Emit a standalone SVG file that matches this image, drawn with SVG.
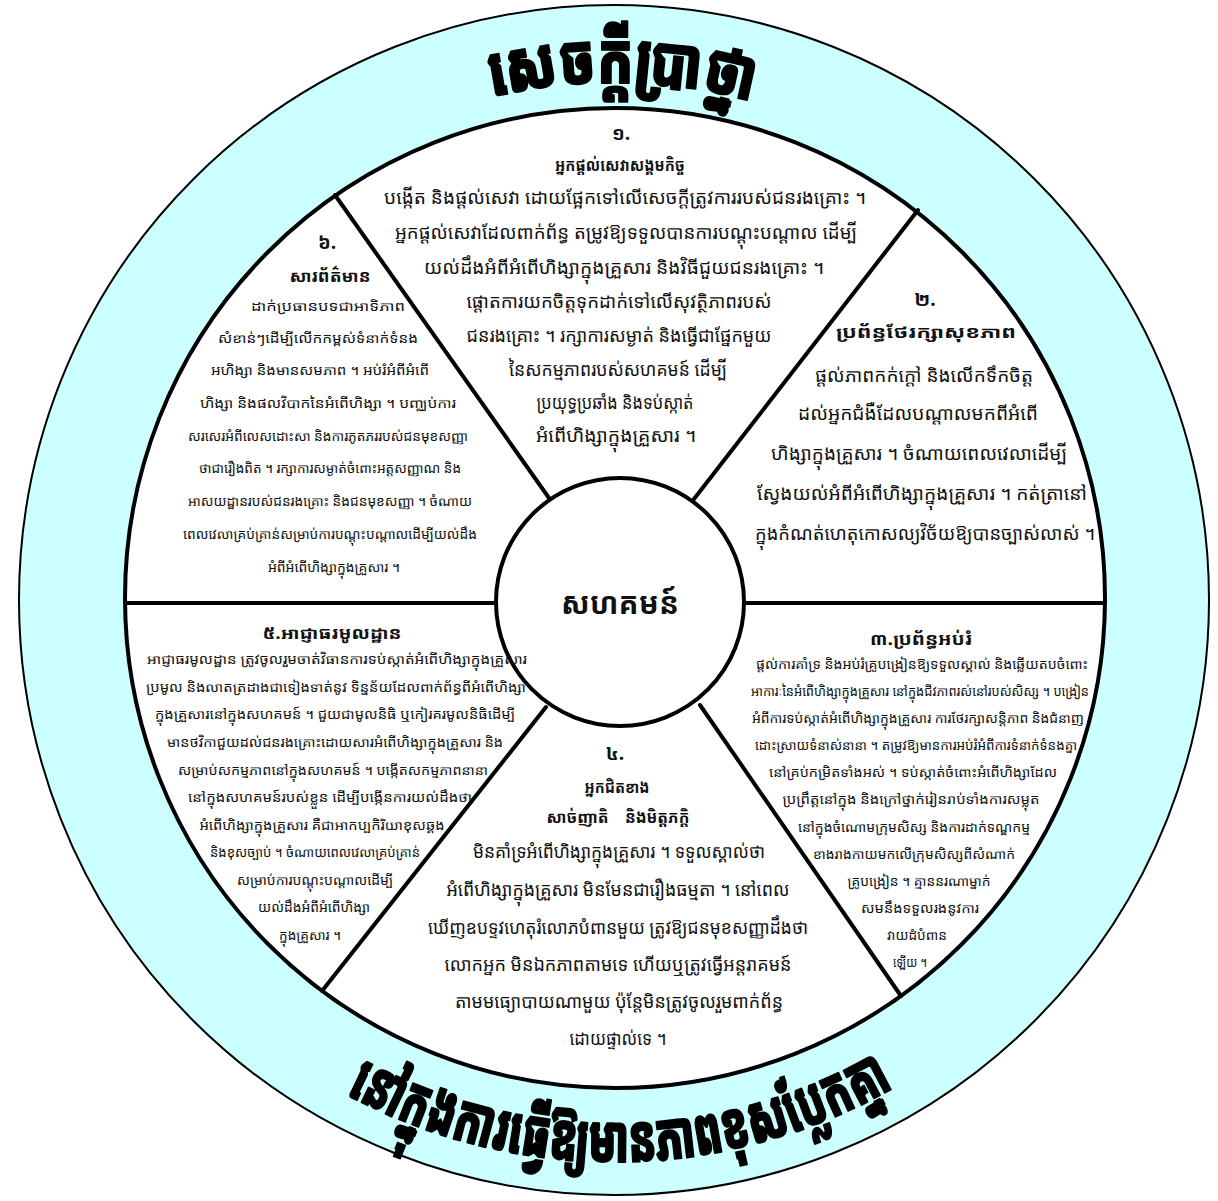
<svg xmlns="http://www.w3.org/2000/svg" width="1218" height="1201" viewBox="0 0 1218 1201">
<style>
text{font-family:"Noto Sans Khmer","Khmer OS","Khmer OS System","Noto Sans","DejaVu Sans",sans-serif;fill:#111;text-anchor:middle}
.b{font-size:18.5px}
.s{font-size:13px}
.h{font-size:16px;font-weight:bold}
.n{font-size:19px;font-weight:bold}
.big{font-weight:900;fill:#000;stroke:#000;stroke-width:2;stroke-linejoin:round}
.ln{stroke:#000;stroke-width:4;fill:none;stroke-linecap:round}
</style>
<defs>
<path id="arcTop" d="M 97 600 A 517 517 0 0 1 1131 600"/>
<path id="arcBot" d="M 52 600 A 562 562 0 0 0 1176 600"/>
</defs>
<rect width="1218" height="1201" fill="#fff"/>
<g id="ring">
<circle cx="614" cy="600" r="595" fill="#ccffff" stroke="#000" stroke-width="2"/>
<circle cx="615" cy="598" r="490" fill="#fff" stroke="none"/>
<text class="big" font-size="70"><textPath href="#arcTop" startOffset="50.5%" textLength="262" lengthAdjust="spacingAndGlyphs">សេចក្តីប្រាថ្នា</textPath></text>
<text class="big" font-size="66"><textPath href="#arcBot" startOffset="50.4%" textLength="572" lengthAdjust="spacingAndGlyphs">នៅក្នុងការធ្វើឱ្យមានភាពខុសប្លែកគ្នា</textPath></text>
</g>
<g id="connectors">
<line class="ln" x1="125" y1="603" x2="497" y2="603"/>
<line class="ln" x1="744" y1="603" x2="1105" y2="603"/>
<line class="ln" x1="335" y1="195" x2="549" y2="498"/>
<line class="ln" x1="918" y1="210" x2="694" y2="499"/>
<line class="ln" x1="546" y1="707" x2="322" y2="991"/>
<line class="ln" x1="700" y1="705" x2="901" y2="996"/>
</g>
<circle cx="615" cy="598" r="490" fill="none" stroke="#000" stroke-width="4"/>
<g id="center">
<circle cx="620" cy="602" r="124" fill="#fff" stroke="#000" stroke-width="4"/>
<text x="620" y="614" font-size="30" font-weight="bold" textLength="118" lengthAdjust="spacingAndGlyphs">សហគមន៍</text>
</g>
<g id="s1">
<text class="n" x="621" y="140">១.</text>
<text class="h" x="620" y="171" textLength="130" lengthAdjust="spacingAndGlyphs">អ្នកផ្តល់សេវាសង្គមកិច្ច</text>
<text class="b" x="625" y="204" textLength="482" lengthAdjust="spacingAndGlyphs">បង្កើត និងផ្តល់សេវា ដោយផ្អែកទៅលើសេចក្តីត្រូវការរបស់ជនរងគ្រោះ ។</text>
<text class="b" x="626" y="239" textLength="462" lengthAdjust="spacingAndGlyphs">អ្នកផ្តល់សេវាដែលពាក់ព័ន្ធ តម្រូវឱ្យទទួលបានការបណ្តុះបណ្តាល ដើម្បី</text>
<text class="b" x="624" y="274" textLength="400" lengthAdjust="spacingAndGlyphs">យល់ដឹងអំពីអំពើហិង្សាក្នុងគ្រួសារ និងវិធីជួយជនរងគ្រោះ ។</text>
<text class="b" x="619" y="308" textLength="305" lengthAdjust="spacingAndGlyphs">ផ្តោតការយកចិត្តទុកដាក់ទៅលើសុវត្ថិភាពរបស់</text>
<text class="b" x="619" y="342" textLength="305" lengthAdjust="spacingAndGlyphs">ជនរងគ្រោះ ។ រក្សាការសម្ងាត់ និងធ្វើជាផ្នែកមួយ</text>
<text class="b" x="618" y="376" textLength="218" lengthAdjust="spacingAndGlyphs">នៃសកម្មភាពរបស់សហគមន៍ ដើម្បី</text>
<text class="b" x="615" y="409" textLength="157" lengthAdjust="spacingAndGlyphs">ប្រយុទ្ធប្រឆាំង និងទប់ស្កាត់</text>
<text class="b" x="616" y="442" textLength="160" lengthAdjust="spacingAndGlyphs">អំពើហិង្សាក្នុងគ្រួសារ  ។</text>
</g>
<g id="s2">
<text class="n" x="925" y="306">២.</text>
<text class="h" x="926" y="338" textLength="180" lengthAdjust="spacingAndGlyphs">ប្រព័ន្ធថែរក្សាសុខភាព</text>
<text class="b" x="924" y="382" textLength="218" lengthAdjust="spacingAndGlyphs">ផ្តល់ភាពកក់ក្តៅ និងលើកទឹកចិត្ត</text>
<text class="b" x="918" y="420" textLength="240" lengthAdjust="spacingAndGlyphs">ដល់អ្នកជំងឺដែលបណ្តាលមកពីអំពើ</text>
<text class="b" x="919" y="460" textLength="296" lengthAdjust="spacingAndGlyphs">ហិង្សាក្នុងគ្រួសារ ។ ចំណាយពេលវេលាដើម្បី</text>
<text class="b" x="922" y="500" textLength="330" lengthAdjust="spacingAndGlyphs">ស្វែងយល់អំពីអំពើហិង្សាក្នុងគ្រួសារ ។ កត់ត្រានៅ</text>
<text class="b" x="925" y="540" textLength="340" lengthAdjust="spacingAndGlyphs">ក្នុងកំណត់ហេតុកោសល្យវិច័យឱ្យបានច្បាស់លាស់ ។</text>
</g>
<g id="s3">
<text class="h" x="921" y="645" textLength="102" lengthAdjust="spacingAndGlyphs">៣.ប្រព័ន្ធអប់រំ</text>
<text class="s" x="922" y="669" textLength="332" lengthAdjust="spacingAndGlyphs">ផ្តល់ការគាំទ្រ និងអប់រំគ្រូបង្រៀនឱ្យទទួលស្គាល់ និងឆ្លើយតបចំពោះ</text>
<text class="s" x="920" y="696" textLength="338" lengthAdjust="spacingAndGlyphs">អាការៈនៃអំពើហិង្សាក្នុងគ្រួសារ នៅក្នុងជីវភាពរស់នៅរបស់សិស្ស ។ បង្រៀន</text>
<text class="s" x="918" y="723" textLength="332" lengthAdjust="spacingAndGlyphs">អំពីការទប់ស្កាត់អំពើហិង្សាក្នុងគ្រួសារ ការថែរក្សាសន្តិភាព និងជំនាញ</text>
<text class="s" x="916" y="750" textLength="322" lengthAdjust="spacingAndGlyphs">ដោះស្រាយទំនាស់នានា ។ តម្រូវឱ្យមានការអប់រំអំពីការទំនាក់ទំនងគ្នា</text>
<text class="s" x="913" y="777" textLength="288" lengthAdjust="spacingAndGlyphs">នៅគ្រប់កម្រិតទាំងអស់ ។ ទប់ស្កាត់ចំពោះអំពើហិង្សាដែល</text>
<text class="s" x="911" y="804" textLength="257" lengthAdjust="spacingAndGlyphs">ប្រព្រឹត្តនៅក្នុង និងក្រៅថ្នាក់រៀនរាប់ទាំងការសម្លុត</text>
<text class="s" x="914" y="832" textLength="232" lengthAdjust="spacingAndGlyphs">នៅក្នុងចំណោមក្រុមសិស្ស និងការដាក់ទណ្ឌកម្ម</text>
<text class="s" x="914" y="859" textLength="202" lengthAdjust="spacingAndGlyphs">ខាងរាងកាយមកលើក្រុមសិស្សពីសំណាក់</text>
<text class="s" x="919" y="886" textLength="143" lengthAdjust="spacingAndGlyphs">គ្រូបង្រៀន ។ គ្មាននរណាម្នាក់</text>
<text class="s" x="920" y="913" textLength="118" lengthAdjust="spacingAndGlyphs">សមនឹងទទួលរងនូវការ</text>
<text class="s" x="917" y="940" textLength="60" lengthAdjust="spacingAndGlyphs">វាយដំបំពាន</text>
<text class="s" x="910" y="967" textLength="34" lengthAdjust="spacingAndGlyphs">ឡើយ ។</text>
</g>
<g id="s4">
<text class="n" x="615" y="760">៤.</text>
<text class="h" x="617" y="793" textLength="65" lengthAdjust="spacingAndGlyphs">អ្នកជិតខាង</text>
<text class="h" x="618" y="823" textLength="143" lengthAdjust="spacingAndGlyphs" xml:space="preserve">សាច់ញាតិ    និងមិត្តភក្តិ</text>
<text class="b" x="619" y="858" textLength="292" lengthAdjust="spacingAndGlyphs">មិនគាំទ្រអំពើហិង្សាក្នុងគ្រួសារ ។ ទទួលស្គាល់ថា</text>
<text class="b" x="618" y="896" textLength="343" lengthAdjust="spacingAndGlyphs">អំពើហិង្សាក្នុងគ្រួសារ មិនមែនជារឿងធម្មតា ។ នៅពេល</text>
<text class="b" x="618" y="934" textLength="380" lengthAdjust="spacingAndGlyphs">ឃើញឧបទ្ទវហេតុរំលោភបំពានមួយ ត្រូវឱ្យជនមុខសញ្ញាដឹងថា</text>
<text class="b" x="618" y="971" textLength="347" lengthAdjust="spacingAndGlyphs">លោកអ្នក មិនឯកភាពតាមទេ ហើយឬត្រូវធ្វើអន្តរាគមន៍</text>
<text class="b" x="619" y="1008" textLength="328" lengthAdjust="spacingAndGlyphs">តាមមធ្យោបាយណាមួយ ប៉ុន្តែមិនត្រូវចូលរួមពាក់ព័ន្ធ</text>
<text class="b" x="618" y="1045" textLength="97" lengthAdjust="spacingAndGlyphs">ដោយផ្ទាល់ទេ ។</text>
</g>
<g id="s5">
<text class="h" x="332" y="639" textLength="139" lengthAdjust="spacingAndGlyphs">៥.អាជ្ញាធរមូលដ្ឋាន</text>
<text class="s" x="337" y="664" textLength="380" lengthAdjust="spacingAndGlyphs">អាជ្ញាធរមូលដ្ឋាន ត្រូវចូលរួមចាត់វិធានការទប់ស្កាត់អំពើហិង្សាក្នុងគ្រួសារ</text>
<text class="s" x="336" y="692" textLength="380" lengthAdjust="spacingAndGlyphs">ប្រមូល និងលាតត្រដាងជាទៀងទាត់នូវ ទិន្នន័យដែលពាក់ព័ន្ធពីអំពើហិង្សា</text>
<text class="s" x="335" y="719" textLength="360" lengthAdjust="spacingAndGlyphs">ក្នុងគ្រួសារនៅក្នុងសហគមន៍ ។ ជួយជាមូលនិធិ ឬកៀរគរមូលនិធិដើម្បី</text>
<text class="s" x="335" y="747" textLength="336" lengthAdjust="spacingAndGlyphs">មានថវិកាជួយដល់ជនរងគ្រោះដោយសារអំពើហិង្សាក្នុងគ្រួសារ និង</text>
<text class="s" x="333" y="775" textLength="310" lengthAdjust="spacingAndGlyphs">សម្រាប់សកម្មភាពនៅក្នុងសហគមន៍ ។ បង្កើតសកម្មភាពនានា</text>
<text class="s" x="330" y="802" textLength="284" lengthAdjust="spacingAndGlyphs">នៅក្នុងសហគមន៍របស់ខ្លួន ដើម្បីបង្កើនការយល់ដឹងថា</text>
<text class="s" x="322" y="830" textLength="245" lengthAdjust="spacingAndGlyphs">អំពើហិង្សាក្នុងគ្រួសារ គឺជាអាកប្បកិរិយាខុសឆ្គង</text>
<text class="s" x="315" y="857" textLength="210" lengthAdjust="spacingAndGlyphs">និងខុសច្បាប់ ។ ចំណាយពេលវេលាគ្រប់គ្រាន់</text>
<text class="s" x="315" y="885" textLength="156" lengthAdjust="spacingAndGlyphs">សម្រាប់ការបណ្តុះបណ្តាលដើម្បី</text>
<text class="s" x="314" y="912" textLength="112" lengthAdjust="spacingAndGlyphs">យល់ដឹងអំពីអំពើហិង្សា</text>
<text class="s" x="310" y="940" textLength="62" lengthAdjust="spacingAndGlyphs">ក្នុងគ្រួសារ ។</text>
</g>
<g id="s6">
<text class="n" x="327" y="249">៦.</text>
<text class="h" x="330" y="282" textLength="81" lengthAdjust="spacingAndGlyphs">សារព័ត៌មាន</text>
<text class="s" x="328" y="311" textLength="154" lengthAdjust="spacingAndGlyphs">ដាក់ប្រធានបទជាអាទិភាព</text>
<text class="s" x="318" y="343" textLength="200" lengthAdjust="spacingAndGlyphs">សំខាន់ៗដើម្បីលើកកម្ពស់ទំនាក់ទំនង</text>
<text class="s" x="320" y="375" textLength="218" lengthAdjust="spacingAndGlyphs">អហិង្សា និងមានសមភាព ។ អប់រំអំពីអំពើ</text>
<text class="s" x="328" y="408" textLength="256" lengthAdjust="spacingAndGlyphs">ហិង្សា និងផលវិបាកនៃអំពើហិង្សា ។ បញ្ឈប់ការ</text>
<text class="s" x="328" y="441" textLength="280" lengthAdjust="spacingAndGlyphs">សរសេរអំពីលេសដោះសា និងការភូតភររបស់ជនមុខសញ្ញា</text>
<text class="s" x="330" y="473" textLength="262" lengthAdjust="spacingAndGlyphs">ថាជារឿងពិត ។ រក្សាការសម្ងាត់ចំពោះអត្តសញ្ញាណ និង</text>
<text class="s" x="330" y="506" textLength="284" lengthAdjust="spacingAndGlyphs">អាសយដ្ឋានរបស់ជនរងគ្រោះ និងជនមុខសញ្ញា ។ ចំណាយ</text>
<text class="s" x="330" y="539" textLength="294" lengthAdjust="spacingAndGlyphs">ពេលវេលាគ្រប់គ្រាន់សម្រាប់ការបណ្តុះបណ្តាលដើម្បីយល់ដឹង</text>
<text class="s" x="334" y="572" textLength="132" lengthAdjust="spacingAndGlyphs">អំពីអំពើហិង្សាក្នុងគ្រួសារ  ។</text>
</g>
</svg>
